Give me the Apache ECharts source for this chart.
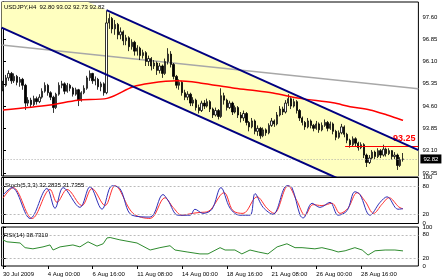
<!DOCTYPE html>
<html><head><meta charset="utf-8">
<script src="https://cdn.jsdelivr.net/npm/echarts@6/dist/echarts.min.js"></script>
<style>html,body{margin:0;padding:0;background:#fff}#c{width:448px;height:280px}</style>
</head><body><div id="c"></div><script>
// time ticks (bar index -> label)
const tickIndex = [0,16,32,48,64,80,96,112,128];
const tickLabels = ['30 Jul 2009','4 Aug 00:00','6 Aug 16:00','11 Aug 08:00','14 Aug 00:00','18 Aug 16:00','21 Aug 08:00','26 Aug 00:00','28 Aug 16:00'];
const priceTicks = [92.35,93.10,93.85,94.60,95.35,96.10,96.85,97.60];
const oscTicks = [0,20,80,100];
// [open, close, low, high]
const ohlc = [
[95.20,95.30,95.10,95.45],[95.30,95.55,95.25,95.65],[95.55,95.70,95.45,95.80],[95.70,95.45,95.35,95.75],
[95.45,95.60,95.38,95.70],[95.60,95.40,95.30,95.65],[95.40,95.50,95.25,95.58],[95.50,95.30,95.15,95.55],
[95.30,94.70,94.47,95.35],[94.70,94.80,94.60,94.90],[94.80,94.65,94.55,94.88],[94.65,94.85,94.60,94.95],
[94.85,94.75,94.65,94.92],[94.75,94.90,94.70,95.00],[94.90,95.10,94.85,95.20],[95.10,95.30,95.05,95.40],
[95.30,95.05,94.95,95.35],[95.05,94.90,94.80,95.10],[94.90,94.55,94.37,94.95],[94.55,95.00,94.50,95.05],
[95.00,95.30,94.95,95.40],[95.30,95.35,95.20,95.45],[95.35,95.10,95.00,95.40],[95.10,95.30,95.05,95.38],
[95.30,95.20,95.10,95.35],[95.20,95.00,94.92,95.25],[95.00,95.15,94.95,95.22],[95.15,94.80,94.60,95.18],
[94.80,95.05,94.75,95.10],[95.05,95.20,95.00,95.30],[95.20,95.55,95.15,95.62],[95.55,95.70,95.45,95.80],
[95.70,95.45,95.35,95.72],[95.45,95.50,95.30,95.60],[95.50,95.25,95.15,95.55],[95.25,95.35,95.10,95.42],
[95.35,95.05,94.95,95.40],[95.05,97.40,95.00,97.80],[97.40,97.55,97.20,97.72],[97.55,97.20,97.05,97.60],
[97.20,97.35,97.00,97.50],[97.35,97.00,96.85,97.40],[97.00,97.10,96.85,97.25],[97.10,96.80,96.65,97.15],
[96.80,96.90,96.65,97.00],[96.90,96.60,96.45,96.95],[96.60,96.75,96.50,96.85],[96.75,96.45,96.30,96.80],
[96.45,96.55,96.30,96.65],[96.55,96.30,96.15,96.60],[96.30,96.40,96.20,96.50],[96.40,96.10,95.95,96.45],
[96.10,96.20,95.95,96.30],[96.20,95.95,95.80,96.25],[95.95,96.05,95.85,96.15],[96.05,95.80,95.65,96.10],
[95.80,95.95,95.70,96.05],[95.95,95.70,95.55,96.00],[95.70,96.10,95.65,96.20],[96.10,96.35,96.00,96.55],
[96.35,96.00,95.90,96.45],[96.00,95.60,95.50,96.05],[95.60,95.30,95.20,95.65],[95.30,95.40,95.15,95.50],
[95.40,95.05,94.95,95.45],[95.05,94.90,94.80,95.15],[94.90,95.00,94.80,95.10],[95.00,94.70,94.60,95.05],
[94.70,94.80,94.60,94.90],[94.80,94.55,94.45,94.85],[94.55,94.45,94.35,94.65],[94.45,94.70,94.40,94.78],
[94.70,94.60,94.50,94.80],[94.60,94.75,94.55,94.85],[94.75,94.50,94.40,94.80],[94.50,94.30,94.20,94.55],
[94.30,94.45,94.25,94.55],[94.45,94.25,94.15,94.50],[94.25,94.95,94.20,95.20],[94.95,94.80,94.65,95.05],
[94.80,94.55,94.45,94.85],[94.55,94.70,94.50,94.78],[94.70,94.40,94.30,94.75],[94.40,94.55,94.35,94.62],
[94.55,94.30,94.20,94.60],[94.30,94.20,94.05,94.40],[94.20,94.35,94.10,94.45],[94.35,94.05,93.95,94.40],
[94.05,93.90,93.75,94.10],[93.90,94.10,93.85,94.20],[94.10,93.75,93.65,94.15],[93.75,93.85,93.60,93.95],
[93.85,93.60,93.50,93.90],[93.60,93.80,93.55,93.88],[93.80,93.70,93.60,93.85],[93.70,93.95,93.65,94.02],
[93.95,94.10,93.90,94.20],[94.10,94.00,93.90,94.15],[94.00,94.30,93.95,94.40],[94.30,94.50,94.25,94.60],
[94.50,94.40,94.30,94.58],[94.40,94.70,94.35,94.80],[94.70,94.85,94.60,95.00],[94.85,94.60,94.50,94.90],
[94.60,94.75,94.55,94.85],[94.75,94.45,94.35,94.80],[94.45,94.20,94.10,94.50],[94.20,94.05,93.95,94.25],
[94.05,93.90,93.80,94.10],[93.90,94.10,93.85,94.20],[94.10,93.95,93.85,94.15],[93.95,93.85,93.75,94.00],
[93.85,94.00,93.80,94.10],[94.00,93.80,93.70,94.05],[93.80,93.95,93.75,94.05],[93.95,94.05,93.90,94.15],
[94.05,93.85,93.75,94.10],[93.85,94.00,93.80,94.08],[94.00,93.75,93.65,94.05],[93.75,93.55,93.45,93.80],
[93.55,93.70,93.50,93.78],[93.70,93.90,93.65,94.00],[93.90,93.65,93.55,93.95],[93.65,93.45,93.35,93.70],
[93.45,93.30,93.20,93.50],[93.30,93.50,93.25,93.58],[93.50,93.35,93.25,93.55],[93.35,93.20,93.10,93.40],
[93.20,93.30,93.15,93.38],[93.30,92.95,92.85,93.35],[92.95,92.70,92.55,93.00],[92.70,92.85,92.65,92.95],
[92.85,93.05,92.80,93.12],[93.05,92.90,92.82,93.10],[92.90,93.10,92.85,93.18],[93.10,92.95,92.85,93.15],
[92.95,93.15,92.90,93.30],[93.15,93.00,92.90,93.20],[93.00,93.10,92.95,93.18],[93.10,92.90,92.80,93.12],
[92.90,92.95,92.82,93.05],[92.95,92.60,92.45,93.00],[92.60,92.80,92.55,92.88],[92.80,92.82,92.73,93.02]
];
// [bar index, value]
const maLine = [[0,94.47],[16.8,94.64],[26.8,94.80],[37.2,94.86],[46.5,95.25],[52.6,95.37],[62.2,95.45],[70.4,95.38],[82.2,95.21],[88.3,95.14],[96.5,95.04],[106.2,94.86],[118,94.71],[124.1,94.58],[131.2,94.47],[137.3,94.30],[143,94.12]];
const grayLine = [[-0.5,96.66],[148.5,95.18]];
const channelUpper = [[-0.5,99.41],[148.5,93.12]];
const channelLower = [[-0.5,97.24],[148.5,90.95]];
const upperDrawn = [[37,97.83],[148.5,93.12]];
const resistance = [[122.3,93.25],[148.5,93.25]];
const bid = 92.82;
const stochK = [[0,62],[3.2,78],[9.7,11],[15.7,76],[18.6,33],[21.5,78],[27.5,35],[31.1,80],[35.4,31],[39,82],[41.8,76],[46.1,18],[52.6,14],[57.2,63],[59,50],[62.6,18],[66.9,18],[68.6,31],[71.5,22],[74.7,31],[77.9,78],[81.2,33],[84.7,18],[88.3,18],[90.1,65],[93,35],[96.5,20],[101.5,82],[103.3,78],[106.2,18],[107.3,12],[110.5,44],[113.3,35],[116.9,46],[119.8,18],[123,28],[125.8,69],[127.6,63],[131.2,18],[134.8,46],[137.3,58],[141.2,31],[143,32.28]];
const stochD = [[0,55],[3.6,78],[10.4,11],[16.8,74],[19.3,46],[22.9,74],[28.2,39],[31.8,76],[36.5,39],[40,82],[46.5,22],[52.6,11],[57.9,56],[60.8,35],[64,18],[67.6,22],[70.4,24],[73.3,26],[79,67],[82.2,28],[85.8,22],[90.8,58],[94.4,33],[96.9,22],[101.9,82],[105,50],[108,18],[110.8,41],[114,39],[117.6,44],[120.5,22],[123.3,33],[126.6,67],[129.5,48],[132.5,22],[135.5,42],[138,56],[141.5,36],[143,31.74]];
const rsi = [[0,67],[1.4,62],[6.1,59],[7.9,47],[10.7,44],[14.3,49],[16.8,54],[17.9,41],[20.4,49],[25,54],[27.5,49],[30.4,62],[33.6,51],[35.8,57],[37.2,72],[38.3,73],[41.8,67],[47.9,59],[52.6,41],[56.1,47],[59.7,52],[61.5,41],[65.8,36],[70.4,31],[73.3,31],[77.6,47],[79.4,41],[82.9,41],[85.4,31],[88.3,41],[91.2,36],[94.7,31],[98,49],[101.5,57],[104.4,47],[106.9,47],[111.5,44],[114,47],[117.6,41],[119.8,36],[122.3,39],[125.8,47],[128.4,41],[130.5,28],[133,39],[136.6,41],[140.1,41],[143,38.73]];

const FONT = 'Liberation Sans';
const chart = echarts.init(document.getElementById('c'), null, {renderer:'canvas'});
const gl = 1.6, gw = 416.8;
function xAx(g, show){
  return {type:'value', gridIndex:g, min:-0.5, max:148.5, axisLine:{show:false}, splitLine:{show:false},
    axisTick:{show:show, customValues:tickIndex, length:3, lineStyle:{color:'#000'}},
    axisLabel:{show:show, customValues:tickIndex, align:'left', fontSize:6, fontFamily:FONT, color:'#000', margin:5,
      formatter:v=>tickLabels[tickIndex.indexOf(v)]}};
}
function yAx(g, mn, mx, vals, fmt){
  return {type:'value', gridIndex:g, position:'right', min:mn, max:mx, splitLine:{show:false},
    axisLine:{show:true, lineStyle:{color:'#000'}},
    axisTick:{show:true, customValues:vals, length:3, lineStyle:{color:'#000'}},
    axisLabel:{customValues:vals, fontSize:6, fontFamily:FONT, color:'#000', margin:4, formatter:fmt}};
}
const levelLines = {symbol:'none', silent:true, label:{show:false}, lineStyle:{color:'#bbb', type:[2,2], width:1}, data:[{yAxis:80},{yAxis:20}]};
chart.setOption({
  animation:false,
  backgroundColor:'#fff',
  grid:[
    {left:gl, width:gw, top:2, height:174, show:true, borderColor:'#000', borderWidth:1},
    {left:gl, width:gw, top:177.5, height:46, show:true, borderColor:'#000', borderWidth:1},
    {left:gl, width:gw, top:227, height:39, show:true, borderColor:'#000', borderWidth:1}
  ],
  xAxis:[xAx(0,false), xAx(1,false), xAx(2,true)],
  yAxis:[
    yAx(0, 92.246, 98.105, priceTicks, v=>v.toFixed(2)),
    yAx(1, 0, 100, oscTicks, v=>String(v)),
    yAx(2, 0, 100, oscTicks, v=>String(v))
  ],
  graphic:[
    {type:'text', left:4, top:4, z:100, style:{text:'USDJPY,H4  92.80 93.02 92.73 92.82', fontSize:6, fontFamily:FONT, fill:'#000'}},
    {type:'text', left:5, top:182.5, z:100, style:{text:'Stoch(5,3,3) 32.2835 31.7355', fontSize:6, fontFamily:FONT, fill:'#000'}},
    {type:'text', left:4, top:232, z:100, style:{text:'RSI(14) 38.7310', fontSize:6, fontFamily:FONT, fill:'#000'}}
  ],
  series:[
    {type:'custom', xAxisIndex:0, yAxisIndex:0, clip:true, z:1, silent:true, data:[0],
      renderItem:(params, api)=>{
        const pts = [api.coord(channelUpper[0]), api.coord(channelUpper[1]), api.coord(channelLower[1]), api.coord(channelLower[0])];
        return {type:'polygon', shape:{points:pts}, style:{fill:'#ffffc0', stroke:null}};
      }},
    {type:'line', xAxisIndex:0, yAxisIndex:0, data:grayLine, showSymbol:false, z:2, lineStyle:{color:'#a8a8a8', width:1.5}},
    {type:'candlestick', xAxisIndex:0, yAxisIndex:0, z:3, barWidth:1.8,
      data:ohlc.map((d,i)=>[i,d[0],d[1],d[2],d[3]]), encode:{x:0, y:[1,2,3,4]},
      itemStyle:{color:'#ffffff', color0:'#000000', borderColor:'#000000', borderColor0:'#000000', borderWidth:0.8},
      markLine:{symbol:'none', silent:true, data:[
        {yAxis:bid, lineStyle:{color:'#aaa', type:[1,2], width:1},
          label:{position:'end', formatter:'92.82', backgroundColor:'#000', color:'#fff', fontSize:6, fontFamily:FONT, padding:[2,3,1,3], distance:2}},
        [{coord:resistance[0], lineStyle:{color:'#ff0000', width:1, type:'solid'},
          label:{position:'insideEndTop', formatter:'93.25', color:'#ff0000', fontWeight:'bold', fontSize:9, fontFamily:FONT, distance:3}},
         {coord:resistance[1]}]
      ]}},
    {type:'line', xAxisIndex:0, yAxisIndex:0, data:maLine, showSymbol:false, smooth:0.3, z:4, lineStyle:{color:'#ff0000', width:1.5}},
    {type:'line', xAxisIndex:0, yAxisIndex:0, data:upperDrawn, showSymbol:false, z:5, lineStyle:{color:'#000080', width:2}},
    {type:'line', xAxisIndex:0, yAxisIndex:0, data:channelLower, showSymbol:false, z:5, lineStyle:{color:'#000080', width:2}},
    {type:'line', xAxisIndex:1, yAxisIndex:1, data:stochD, showSymbol:false, smooth:0.35, z:3, lineStyle:{color:'#ff3030', width:1}, markLine:levelLines},
    {type:'line', xAxisIndex:1, yAxisIndex:1, data:stochK, showSymbol:false, smooth:0.35, z:4, lineStyle:{color:'#3030b8', width:1}},
    {type:'line', xAxisIndex:2, yAxisIndex:2, data:rsi, showSymbol:false, z:4, lineStyle:{color:'#2e8b2e', width:1}, markLine:levelLines}
  ]
});
</script></body></html>
